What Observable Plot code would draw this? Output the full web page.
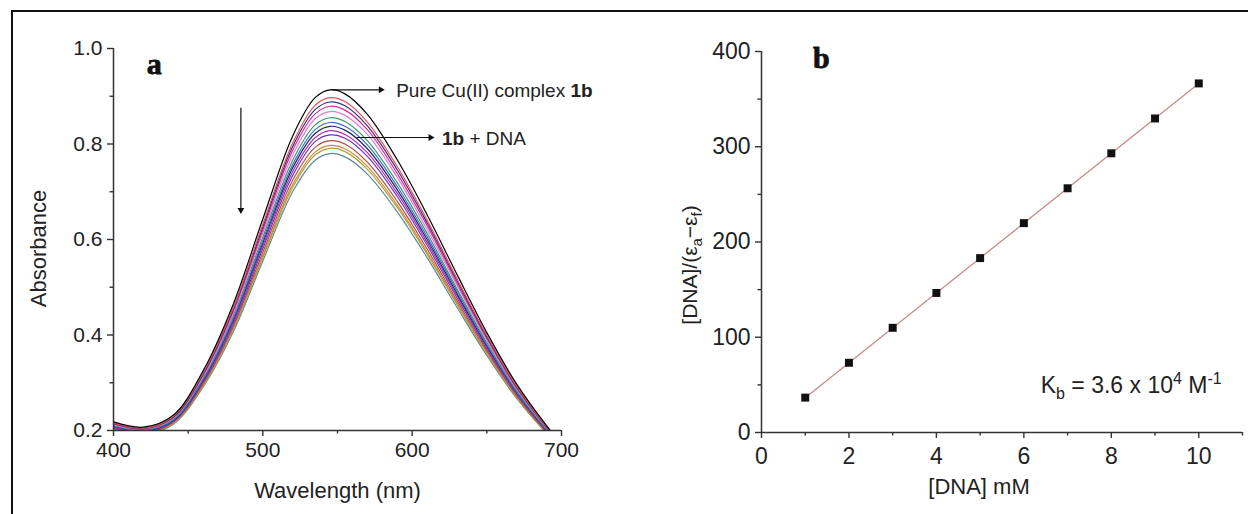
<!DOCTYPE html>
<html><head><meta charset="utf-8">
<script src="https://cdn.jsdelivr.net/npm/d3@7"></script>
<script src="https://cdn.jsdelivr.net/npm/@observablehq/plot@0.6"></script>
<style>
body{margin:0;background:#fff;}
#wrap{position:relative;width:1248px;height:514px;overflow:hidden;background:#fff;font-family:"Liberation Sans",Arial,sans-serif;}
#frame{position:absolute;left:11px;top:10px;width:1260px;height:530px;border-top:2px solid #111;border-left:2px solid #111;}
#pa{position:absolute;left:0;top:0;width:620px;height:514px;}
#pb{position:absolute;left:620px;top:0;width:628px;height:514px;}
</style></head><body>
<div id="wrap"><div id="pa"></div><div id="pb"></div><div id="frame"></div></div>
<script>
// ---------- Panel a: UV-vis spectra ----------
const wavelength = [400,420,440,460,480,500,520,535,545,555,570,590,610,630,650,670,690,700];
const s01 = [0.218,0.207,0.232,0.325,0.463,0.643,0.817,0.897,0.9135,0.905,0.862,0.767,0.652,0.527,0.405,0.297,0.210,0.172];
const s02 = [0.216,0.205,0.230,0.321,0.456,0.632,0.802,0.881,0.897,0.889,0.846,0.753,0.641,0.518,0.399,0.293,0.208,0.171];
const s03 = [0.215,0.204,0.228,0.318,0.452,0.626,0.795,0.872,0.888,0.880,0.838,0.746,0.635,0.514,0.396,0.291,0.207,0.170];
const s04 = [0.214,0.203,0.227,0.316,0.448,0.620,0.787,0.863,0.879,0.871,0.830,0.738,0.629,0.509,0.393,0.289,0.206,0.170];
const s05 = [0.212,0.202,0.226,0.313,0.443,0.613,0.777,0.853,0.868,0.860,0.820,0.730,0.621,0.504,0.389,0.287,0.205,0.169];
const s06 = [0.211,0.201,0.224,0.310,0.438,0.605,0.766,0.840,0.855,0.847,0.807,0.719,0.613,0.497,0.384,0.284,0.203,0.168];
const s07 = [0.210,0.200,0.222,0.307,0.433,0.598,0.757,0.830,0.845,0.837,0.798,0.711,0.606,0.492,0.380,0.281,0.202,0.168];
const s08 = [0.209,0.199,0.221,0.305,0.430,0.593,0.750,0.822,0.837,0.829,0.790,0.704,0.600,0.487,0.377,0.280,0.201,0.167];
const s09 = [0.207,0.198,0.220,0.303,0.426,0.587,0.742,0.813,0.828,0.820,0.782,0.697,0.594,0.483,0.374,0.278,0.200,0.167];
const s10 = [0.206,0.197,0.219,0.301,0.422,0.581,0.734,0.805,0.819,0.812,0.774,0.690,0.588,0.478,0.371,0.276,0.199,0.166];
const s11 = [0.205,0.195,0.217,0.298,0.417,0.573,0.724,0.793,0.807,0.800,0.762,0.680,0.580,0.472,0.367,0.273,0.197,0.165];
const s12 = [0.204,0.194,0.216,0.295,0.413,0.566,0.715,0.783,0.797,0.790,0.753,0.672,0.573,0.467,0.363,0.271,0.196,0.165];
const s13 = [0.203,0.194,0.215,0.293,0.410,0.562,0.709,0.777,0.791,0.784,0.747,0.667,0.569,0.464,0.361,0.269,0.195,0.164];
const s14 = [0.202,0.192,0.213,0.291,0.405,0.555,0.700,0.766,0.780,0.773,0.737,0.658,0.562,0.458,0.357,0.267,0.194,0.164];
const seriesNames = ["c01","c02","c03","c04","c05","c06","c07","c08","c09","c10","c11","c12","c13","c14"];
const seriesColors = ["#000000","#e8505a","#3a2f7a","#d0309a","#e07ad8","#3a9a6a","#3a6ad0","#1f2a5a","#b030b0","#7030c0","#b05040","#d08a30","#a8a040","#5a8a9a"];
const xTicksA = [400,500,600,700];
const xMinorA = [450,550,650];
const yTicksA = [0.2,0.4,0.6,0.8,1.0];
const yMinorA = [0.3,0.5,0.7,0.9];

// annotations (data units)
const arrowLinesA = [
  {x1:546, y1:0.9135, x2:579, y2:0.9135},
  {x1:562.7, y1:0.8136, x2:612.3, y2:0.8136},
  {x1:485.3, y1:0.876, x2:485.3, y2:0.662}
];
const arrowHeadsA = [
  {x:579, y:0.9135, rot:90},
  {x:612.3, y:0.8136, rot:90},
  {x:485.3, y:0.662, rot:180}
];
const annotA = [
  {x:589.3, y:0.9135, label:"Pure Cu(II) complex 1b"},
  {x:620, y:0.8136, label:"1b + DNA"}
];

// ---------- Panel b: binding plot ----------
const dnaConc = [1,2,3,4,5,6,7,8,9,10];
const ratioVals = [36.6,73.2,109.9,146.5,183.1,219.8,256.4,293.1,329.7,366.5];
const xTicksB = [0,2,4,6,8,10];
const xMinorB = [1,3,5,7,9,11];
const yTicksB = [0,100,200,300,400];
const yMinorB = [50,150,250,350];

// ---------- build tables ----------
const spectra = [s01,s02,s03,s04,s05,s06,s07,s08,s09,s10,s11,s12,s13,s14];
const specRows = [];
for (let i = spectra.length - 1; i >= 0; i--) {
  spectra[i].forEach((a, j) => specRows.push({wl: wavelength[j], abs: a, series: seriesNames[i]}));
}
const bRows = dnaConc.map((c, i) => ({c, r: ratioVals[i]}));

const axisColor = "#333";
const plotA = Plot.plot({
  width: 620, height: 514,
  marginLeft: 113, marginRight: 59, marginTop: 48, marginBottom: 84,
  style: {fontFamily: "'Liberation Sans', Arial, sans-serif", fontSize: "21px", color: "#222", background: "transparent", overflow: "visible"},
  x: {domain: [400, 700]},
  y: {domain: [0.2, 1.0]},
  color: {domain: seriesNames, range: seriesColors},
  marks: [
    Plot.line(specRows, {x: "wl", y: "abs", z: "series", stroke: "series", curve: "catmull-rom", strokeWidth: 1.2, clip: true}),
    Plot.ruleX([400], {stroke: axisColor, strokeWidth: 1.5}),
    Plot.ruleY([0.2], {stroke: axisColor, strokeWidth: 1.5}),
    Plot.axisX({ticks: xTicksA, tickSize: 6, tickPadding: 6, tickFormat: d => String(d), label: null, fontSize: 21, stroke: axisColor, strokeWidth: 1.4}),
    Plot.axisX({ticks: xMinorA, tickSize: 3.5, tickFormat: () => "", label: null, stroke: axisColor, strokeWidth: 1.4}),
    Plot.axisY({ticks: yTicksA, tickSize: 6, tickPadding: 5, tickFormat: d3.format(".1f"), label: null, fontSize: 21, stroke: axisColor, strokeWidth: 1.4}),
    Plot.axisY({ticks: yMinorA, tickSize: 3.5, tickFormat: () => "", label: null, stroke: axisColor, strokeWidth: 1.4}),
    Plot.link(arrowLinesA, {x1: "x1", y1: "y1", x2: "x2", y2: "y2", stroke: "#111", strokeWidth: 1.2}),
    Plot.dot(arrowHeadsA, {x: "x", y: "y", rotate: "rot", symbol: "triangle2", r: 3.3, fill: "#111", stroke: "none"}),
    Plot.text(annotA, {x: "x", y: "y", text: "label", textAnchor: "start", lineAnchor: "middle", fontSize: 19, dy: 1, fill: "#222"}),
    Plot.text([{x: 427.3, y: 0.9665}], {x: "x", y: "y", text: () => "a", fontFamily: "'Liberation Serif', serif", fontWeight: "bold", fontSize: 30, fill: "#111", stroke: "#111", strokeWidth: 0.8}),
    Plot.text(["Absorbance"], {frameAnchor: "left", dx: -75, dy: 9, rotate: -90, textAnchor: "middle", lineAnchor: "middle", fontSize: 22, fill: "#222"}),
    Plot.text(["Wavelength (nm)"], {frameAnchor: "bottom", dy: 60, textAnchor: "middle", lineAnchor: "middle", fontSize: 22, fill: "#222"})
  ]
});
document.getElementById("pa").appendChild(plotA);

const plotB = Plot.plot({
  width: 628, height: 514,
  marginLeft: 141, marginRight: 6, marginTop: 51, marginBottom: 82,
  style: {fontFamily: "'Liberation Sans', Arial, sans-serif", fontSize: "23px", color: "#222", background: "transparent", overflow: "visible"},
  x: {domain: [0, 11]},
  y: {domain: [0, 400]},
  marks: [
    Plot.ruleX([0], {stroke: axisColor, strokeWidth: 1.5}),
    Plot.ruleY([0], {stroke: axisColor, strokeWidth: 1.5}),
    Plot.axisX({ticks: xTicksB, tickSize: 6, tickPadding: 9, tickFormat: d => String(d), label: null, fontSize: 23, stroke: axisColor, strokeWidth: 1.4}),
    Plot.axisX({ticks: xMinorB, tickSize: 3.5, tickFormat: () => "", label: null, stroke: axisColor, strokeWidth: 1.4}),
    Plot.axisY({ticks: yTicksB, tickSize: 6, tickPadding: 5, tickFormat: d => String(d), label: null, fontSize: 23, stroke: axisColor, strokeWidth: 1.4}),
    Plot.axisY({ticks: yMinorB, tickSize: 3.5, tickFormat: () => "", label: null, stroke: axisColor, strokeWidth: 1.4}),
    Plot.linearRegressionY(bRows, {x: "c", y: "r", stroke: "#c98c8c", strokeWidth: 1.3, ci: 0}),
    Plot.dot(bRows, {x: "c", y: "r", symbol: "square", r: 4.5, fill: "#111", stroke: "none"}),
    Plot.text([{x: 1.37, y: 392.6}], {x: "x", y: "y", text: () => "b", fontFamily: "'Liberation Serif', serif", fontWeight: "bold", fontSize: 30, fill: "#111", stroke: "#111", strokeWidth: 0.8}),
    Plot.text([{x: 6.385, y: 48.8}], {x: "x", y: "y", text: () => "Kb = 3.6 x 10^4 M^-1", textAnchor: "start", lineAnchor: "middle", fontSize: 23, fill: "#222"}),
    Plot.text(["[DNA]/(ea-ef)"], {frameAnchor: "left", dx: -71, dy: 23, rotate: -90, textAnchor: "middle", lineAnchor: "middle", fontSize: 21, fill: "#222"}),
    Plot.text(["[DNA] mM"], {frameAnchor: "bottom", dx: -23, dy: 54, textAnchor: "middle", lineAnchor: "middle", fontSize: 22, fill: "#222"})
  ]
});
document.getElementById("pb").appendChild(plotB);

// rich text (bold / sub / superscripts): replace matching plain texts
function setRich(svg, plain, html) {
  svg.querySelectorAll("text").forEach(t => {
    if (t.textContent === plain) t.innerHTML = html;
  });
}
setRich(plotA, "Pure Cu(II) complex 1b", 'Pure Cu(II) complex <tspan font-weight="bold">1b</tspan>');
setRich(plotA, "1b + DNA", '<tspan font-weight="bold">1b</tspan> + DNA');
setRich(plotB, "Kb = 3.6 x 10^4 M^-1", 'K<tspan dy="6" font-size="16">b</tspan><tspan dy="-6"> = 3.6 x 10</tspan><tspan dy="-9" font-size="16">4</tspan><tspan dy="9"> M</tspan><tspan dy="-9" font-size="16">-1</tspan>');
setRich(plotB, "[DNA]/(ea-ef)", '[DNA]/(ε<tspan dy="5" font-size="15">a</tspan><tspan dy="-5">−ε</tspan><tspan dy="5" font-size="15">f</tspan><tspan dy="-5">)</tspan>');
</script>
</body></html>
